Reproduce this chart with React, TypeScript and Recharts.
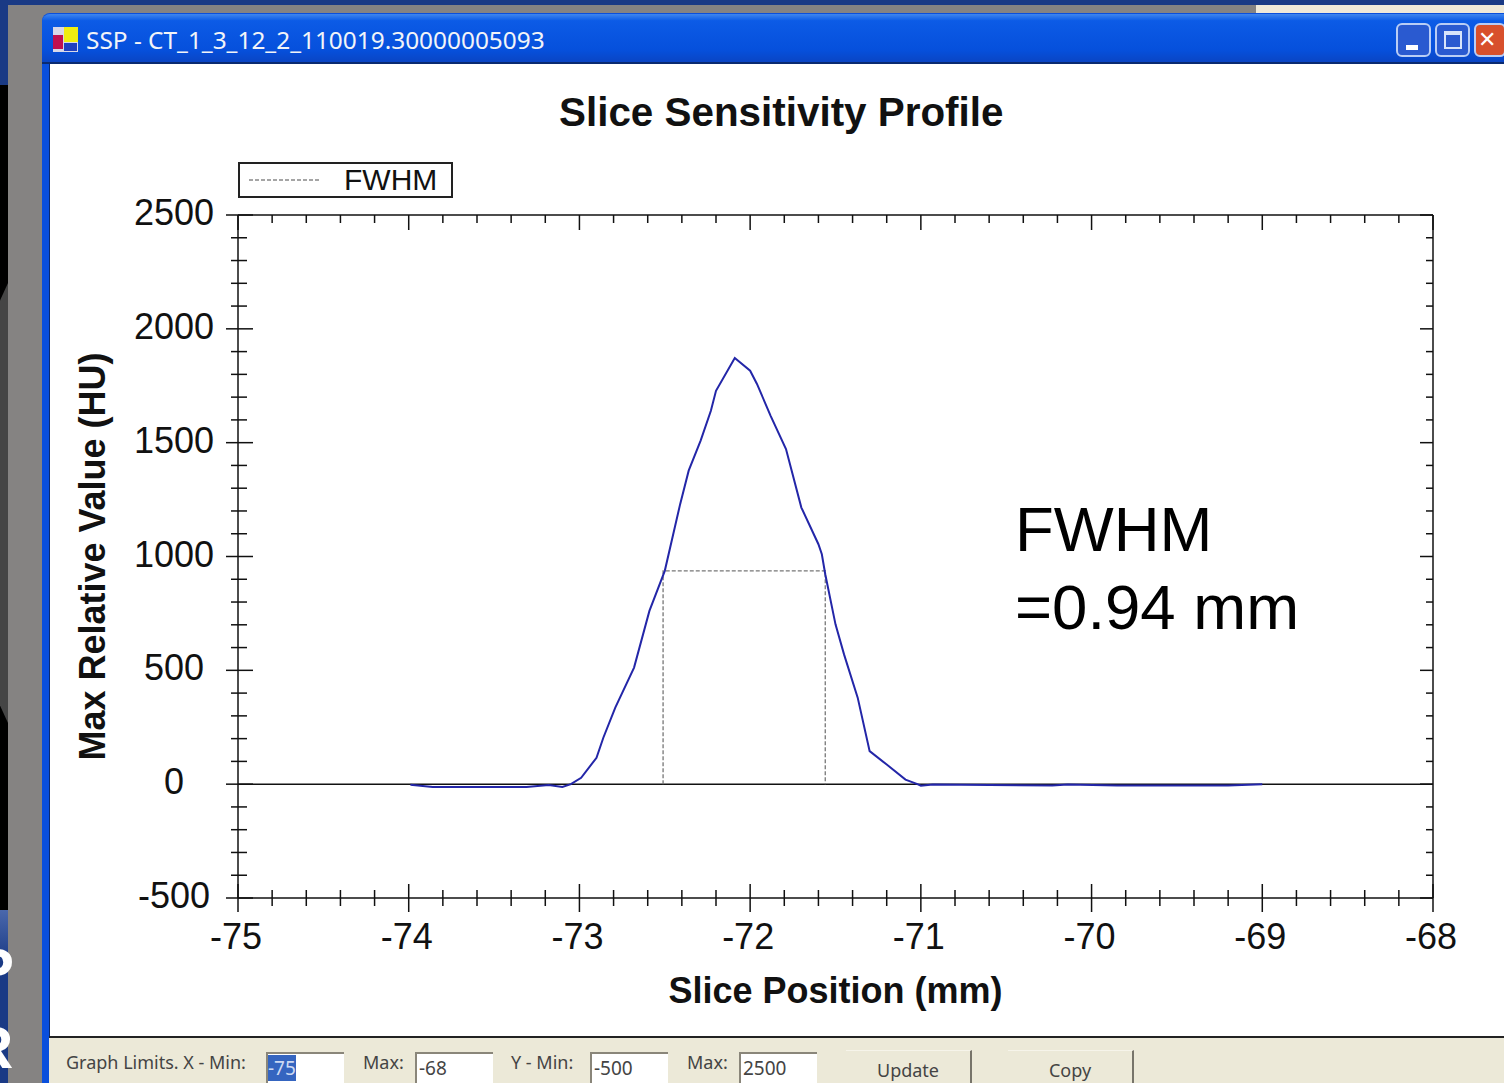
import { LineChart, Line, XAxis, YAxis, ReferenceLine, Legend, Label } from "recharts";

const positions = [-73.99, -73.86, -73.31, -73.18, -73.1, -73.05, -72.99, -72.9, -72.86, -72.79, -72.68, -72.59, -72.5, -72.41, -72.36, -72.29, -72.23, -72.2, -72.09, -72.0, -71.96, -71.88, -71.79, -71.7, -71.6, -71.58, -71.56, -71.5, -71.45, -71.37, -71.3, -71.2, -71.09, -71.02, -71.0, -70.93, -70.23, -70.14, -69.85, -69.2, -69.0];
const values = [-3, -12, -12, -4, -12, 0, 28, 116, 204, 336, 512, 761, 937, 1230, 1377, 1509, 1640, 1728, 1872, 1816, 1758, 1618, 1472, 1215, 1054, 1010, 922, 702, 570, 380, 145, 86, 20, 0, -7, -1, -6, -1, -6, -6, 0];

const fwhmX = [-72.51, -72.51, -71.56, -71.56];
const fwhmY = [0, 937, 937, 0];

const xTicks = [-75, -74.8, -74.6, -74.4, -74.2, -74, -73.8, -73.6, -73.4, -73.2, -73, -72.8, -72.6, -72.4, -72.2, -72, -71.8, -71.6, -71.4, -71.2, -71, -70.8, -70.6, -70.4, -70.2, -70, -69.8, -69.6, -69.4, -69.2, -69, -68.8, -68.6, -68.4, -68.2, -68];
const yTicks = [-500, -400, -300, -200, -100, 0, 100, 200, 300, 400, 500, 600, 700, 800, 900, 1000, 1100, 1200, 1300, 1400, 1500, 1600, 1700, 1800, 1900, 2000, 2100, 2200, 2300, 2400, 2500];

const profile = positions.map((x, i) => ({ x, y: values[i] }));
const fwhm = fwhmX.map((x, i) => ({ x, y: fwhmY[i] }));

const sans = '"Liberation Sans", Arial, sans-serif';
const ui = '"Noto Sans", sans-serif';
const ink = "#111";

const BottomTick = ({ x, y, payload }: any) => {
  const major = Number.isInteger(payload.value);
  return (
    <g>
      <line x1={x} x2={x} y1={y - (major ? 14 : 8)} y2={y + (major ? 14 : 8)} stroke={ink} strokeWidth={1.5} />
      {major && (
        <text x={x - 2} y={y + 51} textAnchor="middle" fontSize={36} fontFamily={sans} fill={ink}>
          {payload.value}
        </text>
      )}
    </g>
  );
};

const TopTick = ({ x, y, payload }: any) => {
  const major = Number.isInteger(payload.value);
  return <line x1={x} x2={x} y1={y} y2={y + (major ? 15 : 8)} stroke={ink} strokeWidth={1.5} />;
};

const LeftTick = ({ x, y, payload }: any) => {
  const major = payload.value % 500 === 0;
  return (
    <g>
      <line x1={x - (major ? 12 : 7)} x2={x + (major ? 15 : 9)} y1={y} y2={y} stroke={ink} strokeWidth={1.5} />
      {major && (
        <text x={x - 64} y={y + 10} textAnchor="middle" fontSize={36} fontFamily={sans} fill={ink}>
          {payload.value}
        </text>
      )}
    </g>
  );
};

const RightTick = ({ x, y, payload }: any) => {
  const major = payload.value % 500 === 0;
  return <line x1={x - (major ? 13 : 7)} x2={x} y1={y} y2={y} stroke={ink} strokeWidth={1.5} />;
};

const FwhmLegend = () => (
  <div style={{ width: 211, height: 32, border: "2px solid #222", background: "#fff", display: "flex", alignItems: "center", boxSizing: "content-box" }}>
    <svg width={104} height={10}>
      <line x1={9} x2={80} y1={5} y2={5} stroke="#888" strokeWidth={1.5} strokeDasharray="4 2" />
    </svg>
    <span style={{ fontFamily: sans, fontSize: 30, color: ink }}>FWHM</span>
  </div>
);

const box = (left: number, top: number, width: number, height: number, style: any = {}) => ({
  position: "absolute" as const,
  left,
  top,
  width,
  height,
  ...style,
});

const Field = ({ left, value, selected }: any) => (
  <div style={box(left, 1052, 78, 40, { background: "#fff", borderTop: "2px solid #8a867a", borderLeft: "2px solid #8a867a", fontFamily: ui, fontSize: 19, color: "#444", boxSizing: "border-box", paddingTop: 1 })}>
    <span style={selected ? { background: "#3565c0", color: "#cdd9f2" } : { marginLeft: 2 }}>{value}</span>
  </div>
);

const Caption = ({ left, children }: any) => (
  <div style={{ position: "absolute", left, top: 1050, fontFamily: ui, fontSize: 18, color: "#444", whiteSpace: "nowrap" }}>{children}</div>
);

const PanelButton = ({ left, width, children }: any) => (
  <div style={box(left, 1050, width, 40, { borderRight: "2px solid #77746a", borderTop: "1px solid #f6f4ea", fontFamily: ui, fontSize: 18, color: "#444", textAlign: "center", paddingTop: 7, boxSizing: "border-box" })}>
    {children}
  </div>
);

const WinButton = ({ left, width, background, children }: any) => (
  <div style={box(left, 23, width, 34, { background, border: "2px solid #b9cdf5", borderRadius: 6, boxSizing: "border-box", overflow: "hidden" })}>{children}</div>
);

export default function App() {
  return (
    <div style={{ position: "absolute", left: 0, top: 0, width: 1504, height: 1083, overflow: "hidden", background: "#1a3a85" }}>
      {/* slide behind the window */}
      <div style={box(0, 85, 8, 825, { background: "#000" })} />
      <div style={box(0, 283, 8, 440, { background: "#454545", clipPath: "polygon(100% 0, 0 4%, 0 96%, 100% 100%)" })} />
      <div style={box(0, 910, 8, 173, { background: "linear-gradient(#4a68ac, #1a3a85 30%)" })} />
      <div style={box(8, 5, 1248, 80, { background: "#858382" })} />
      <div style={box(8, 5, 34, 1078, { background: "#858382" })} />
      <div style={box(1256, 5, 248, 10, { background: "#efe9d8" })} />
      <div style={{ position: "absolute", left: -26, top: 940, fontFamily: sans, fontWeight: 700, fontSize: 60, color: "#fff", lineHeight: "60px" }}>P</div>
      <div style={{ position: "absolute", left: -30, top: 1018, fontFamily: sans, fontWeight: 700, fontSize: 60, color: "#fff", lineHeight: "60px" }}>R</div>

      {/* window frame */}
      <div style={box(42, 13, 1462, 1070, { background: "#0a4fdc", borderTopLeftRadius: 8 })} />
      <div style={box(42, 14, 1462, 50, { background: "linear-gradient(#3f86ee 0%, #0c5be6 14%, #0650dc 75%, #0a45c4 100%)", borderTopLeftRadius: 8, borderBottom: "2px solid #0a2a70", boxSizing: "border-box" })} />
      <div style={box(49, 64, 1455, 972, { background: "#fff", borderLeft: "1px solid #0a2a70", boxSizing: "border-box" })} />
      <div style={box(49, 1036, 1455, 47, { background: "#ece9d8", borderTop: "2px solid #222", boxSizing: "border-box" })} />

      {/* title bar */}
      <div style={box(53, 27, 25, 25, { background: "#d8d8e8" })} />
      <div style={box(64, 27, 14, 15, { background: "#f0ee10" })} />
      <div style={box(53, 35, 10, 14, { background: "#c01050" })} />
      <div style={box(64, 43, 13, 8, { background: "#2040c0" })} />
      <div style={{ position: "absolute", left: 86, top: 23, fontFamily: ui, fontSize: 24.4, color: "#f2f4f8", whiteSpace: "nowrap" }}>SSP - CT_1_3_12_2_110019.30000005093</div>
      <WinButton left={1396} width={35} background="#2a5ad0">
        <div style={box(8, 20, 12, 5, { background: "#fff" })} />
      </WinButton>
      <WinButton left={1435} width={35} background="#2a5ad0">
        <div style={box(7, 6, 18, 18, { border: "2px solid #d8e4fa", borderTopWidth: 4, boxSizing: "border-box" })} />
      </WinButton>
      <WinButton left={1474} width={32} background="#d8502c">
        <div style={{ color: "#fff", fontFamily: '"DejaVu Sans", sans-serif', fontWeight: 700, fontSize: 22, lineHeight: "30px", paddingLeft: 2 }}>✕</div>
      </WinButton>

      {/* chart */}
      <div style={box(0, 0, 1504, 1083)}>
        <LineChart width={1504} height={1083} margin={{ top: 214, right: 70, bottom: 184, left: 237 }}>
          <XAxis xAxisId="bottom" dataKey="x" type="number" domain={[-75, -68]} allowDataOverflow ticks={xTicks} interval={0} height={1} tickSize={0} tickMargin={0} tick={<BottomTick />} stroke={ink} strokeWidth={1.5} allowDuplicatedCategory={false}>
            <Label value="Slice Position (mm)" position="bottom" offset={78} fontSize={36} fontWeight={700} fontFamily={sans} fill={ink} />
          </XAxis>
          <XAxis xAxisId="top" orientation="top" dataKey="x" type="number" domain={[-75, -68]} allowDataOverflow ticks={xTicks} interval={0} height={1} tickSize={0} tickMargin={0} tick={<TopTick />} stroke={ink} strokeWidth={1.5} allowDuplicatedCategory={false} />
          <YAxis yAxisId="left" type="number" domain={[-500, 2500]} allowDataOverflow ticks={yTicks} interval={0} width={1} tickSize={0} tickMargin={0} tick={<LeftTick />} stroke={ink} strokeWidth={1.5}>
            <Label value="Max Relative Value (HU)" angle={-90} position="left" offset={145} textAnchor="middle" fontSize={36} fontWeight={700} fontFamily={sans} fill={ink} />
          </YAxis>
          <YAxis yAxisId="right" orientation="right" type="number" domain={[-500, 2500]} allowDataOverflow ticks={yTicks} interval={0} width={1} tickSize={0} tickMargin={0} tick={<RightTick />} stroke={ink} strokeWidth={1.5} />
          <ReferenceLine xAxisId="bottom" yAxisId="left" y={0} stroke={ink} strokeWidth={1.5} />
          <Line xAxisId="bottom" yAxisId="left" data={fwhm} dataKey="y" name="FWHM" type="linear" dot={false} stroke="#777" strokeWidth={1.3} strokeDasharray="4 2" isAnimationActive={false} />
          <Line xAxisId="bottom" yAxisId="left" data={profile} dataKey="y" name="SSP" legendType="none" type="linear" dot={false} stroke="#2326a8" strokeWidth={2} isAnimationActive={false} />
          <Legend content={<FwhmLegend />} layout="horizontal" verticalAlign="middle" align="center" wrapperStyle={{ left: 238, top: 162, width: 215 }} />
        </LineChart>
      </div>

      {/* texts on the plot */}
      <div style={{ position: "absolute", left: 559, top: 89, fontFamily: sans, fontWeight: 700, fontSize: 40.4, color: ink, whiteSpace: "nowrap" }}>Slice Sensitivity Profile</div>
      <div style={{ position: "absolute", left: 1015, top: 490, fontFamily: sans, fontSize: 63.5, lineHeight: "78px", color: "#000", whiteSpace: "nowrap" }}>
        FWHM
        <br />
        =0.94 mm
      </div>

      {/* limits panel */}
      <Caption left={66}>Graph Limits. X - Min:</Caption>
      <Field left={266} value="-75" selected />
      <Caption left={363}>Max:</Caption>
      <Field left={415} value="-68" />
      <Caption left={511}>Y - Min:</Caption>
      <Field left={590} value="-500" />
      <Caption left={687}>Max:</Caption>
      <Field left={739} value="2500" />
      <PanelButton left={846} width={126}>Update</PanelButton>
      <PanelButton left={1008} width={126}>Copy</PanelButton>
    </div>
  );
}
